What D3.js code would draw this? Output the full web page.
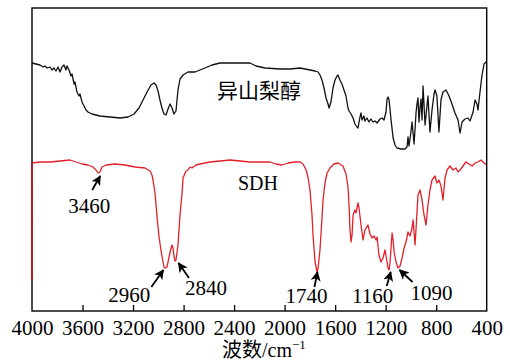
<!DOCTYPE html>
<html>
<head>
<meta charset="utf-8">
<script src="https://cdn.jsdelivr.net/npm/d3@7"></script>
<style>
  html, body { margin: 0; padding: 0; background: #fff; }
  svg { display: block; }
</style>
</head>
<body>
<svg id="chart" width="510" height="362"></svg>
<script>
// 异山梨醇 spectrum (wavenumber, relative transmittance)
const isoWn = [4000,3968,3937,3913,3897,3881,3857,3842,3826,3810,3794,3778,3762,3747,3731,3723,3707,3691,3683,3667,3660,3644,3628,3620,3604,3588,3572,3557,3525,3462,3382,3303,3240,3192,3153,3121,3089,3058,3034,3018,3002,2987,2971,2955,2939,2923,2907,2891,2876,2860,2852,2844,2828,2804,2765,2709,2670,2630,2575,2511,2353,2274,2226,2155,2036,1957,1878,1838,1799,1759,1735,1720,1704,1688,1672,1656,1648,1633,1617,1601,1585,1578,1562,1546,1530,1514,1498,1490,1474,1458,1443,1427,1419,1403,1395,1387,1372,1364,1348,1332,1316,1300,1284,1268,1245,1229,1213,1197,1189,1181,1173,1157,1141,1126,1110,1078,1047,1031,1023,1015,999,991,975,959,952,944,936,928,920,912,904,888,873,865,849,833,817,809,794,778,762,746,722,698,675,651,627,611,595,572,548,532,508,492,477,469,453,437,421,405,400];
const isoT = [248,247,246,244,245,243,244,241,243,240,244,239,244,246,241,245,241,235,237,227,229,219,215,217,209,205,201,199,197,195,194,193,194,197,203,211,219,226,228,226,220,211,203,197,196,202,207,203,197,200,211,221,232,236,239,239,241,243,246,248,248,248,245,243,242,242,243,242,241,240,239,236,231,223,213,207,203,209,223,231,235,236,231,227,221,215,203,200,197,193,187,184,183,194,198,191,195,190,193,189,192,189,190,188,192,193,191,199,212,214,211,191,173,166,163,162,162,164,174,165,180,189,167,199,207,213,189,203,212,191,225,186,205,215,179,201,217,221,215,179,211,219,221,215,207,198,191,178,189,192,193,190,199,211,207,201,219,236,247,249,249];

// SDH spectrum
const sdhWn = [4000,4000,3937,3857,3778,3699,3652,3604,3557,3517,3493,3477,3462,3446,3414,3343,3264,3184,3105,3066,3050,3042,3026,3010,2994,2979,2971,2955,2947,2931,2923,2907,2891,2884,2876,2868,2860,2844,2828,2812,2804,2781,2765,2749,2733,2701,2670,2591,2511,2432,2274,2116,2068,2021,1973,1918,1878,1854,1830,1815,1799,1783,1775,1759,1743,1735,1720,1704,1696,1680,1664,1641,1609,1578,1538,1514,1498,1490,1482,1474,1466,1458,1443,1435,1419,1411,1395,1379,1364,1340,1324,1308,1292,1276,1268,1253,1237,1221,1205,1189,1181,1173,1165,1149,1141,1133,1118,1102,1086,1070,1054,1039,1023,1007,991,983,967,960,944,928,912,896,880,865,849,833,809,794,778,762,746,730,714,691,667,643,627,611,588,564,540,516,492,469,445,421,400];
const sdhT = [30,148,149,149,150,151,149,147,146,144,141,138,139,144,146,147,146,144,143,140,136,131,118,94,74,61,55,44,43,44,49,59,66,63,55,50,51,66,96,118,133,140,141,144,143,146,147,149,150,151,149,149,147,146,148,149,149,147,141,134,121,96,76,49,39,43,61,93,111,128,138,143,147,148,145,137,124,106,81,69,76,96,101,98,108,103,86,71,81,86,77,73,75,71,74,56,49,53,61,49,43,41,49,78,71,59,49,43,45,53,63,69,79,75,83,91,66,81,116,121,111,96,86,106,121,131,135,128,131,125,111,133,141,145,141,143,139,141,145,149,147,145,148,149,151,148,146];

const xTicks = [4000,3600,3200,2800,2400,2000,1600,1200,800,400];

const peakLabels = ['3460','2960','2840','1740','1160','1090'];
const peakWn = [3460,2960,2840,1740,1160,1090];

// arrow layout: tip y, tail offset, label offset (px)
const arrowLayout = [
  { tipY: 176, dx: -8, dy: 14, lx: -11, ly: 37 },
  { tipY: 270, dx: -12, dy: 17, lx: -34, ly: 32 },
  { tipY: 263, dx: 10.5, dy: 15, lx: 27.5, ly: 32 },
  { tipY: 272, dx: -3, dy: 15, lx: -11, ly: 31 },
  { tipY: 272, dx: -4, dy: 14, lx: -18, ly: 31 },
  { tipY: 270, dx: 13, dy: 12, lx: 32, ly: 30 },
];

const W = 510, H = 362;
const margin = { top: 8, right: 23.3, bottom: 51, left: 32 };
const red = '#e3202a';
const serif = '"Liberation Serif"';
const cjk = '"Noto Sans CJK SC"';

const svg = d3.select('#chart');

const x = d3.scaleLinear()
  .domain([4000, 400])
  .range([margin.left, W - margin.right]);
const y = d3.scaleLinear()
  .domain([0, 303])
  .range([H - margin.bottom, margin.top]);

const line = d3.line()
  .x((d) => x(d[0]))
  .y((d) => y(d[1]));

const plotG = svg.append('g');

plotG.append('path')
  .datum(d3.zip(isoWn, isoT))
  .attr('fill', 'none')
  .attr('stroke', '#111')
  .attr('stroke-width', 1.3)
  .attr('stroke-linejoin', 'round')
  .attr('d', line);

plotG.append('path')
  .datum(d3.zip(sdhWn, sdhT))
  .attr('fill', 'none')
  .attr('stroke', red)
  .attr('stroke-width', 1.3)
  .attr('stroke-linejoin', 'round')
  .attr('d', line);

// frame
svg.append('rect')
  .attr('x', x(4000))
  .attr('y', margin.top)
  .attr('width', x(400) - x(4000))
  .attr('height', H - margin.bottom - margin.top)
  .attr('fill', 'none')
  .attr('stroke', '#000')
  .attr('stroke-width', 1.4);

// the red trace's first segment sits on the left edge, draw it over the frame
svg.append('path')
  .datum(d3.zip(sdhWn, sdhT).slice(0, 2))
  .attr('stroke', red)
  .attr('stroke-width', 1.4)
  .attr('d', line);

// bottom axis, ticks pointing inward
const axis = d3.axisBottom(x)
  .tickValues(xTicks)
  .tickSizeInner(-6)
  .tickSizeOuter(0)
  .tickPadding(9)
  .tickFormat(d3.format('d'));

const axisG = svg.append('g')
  .attr('transform', `translate(0,${H - margin.bottom})`)
  .call(axis);
axisG.select('.domain').remove();
axisG.selectAll('.tick line')
  .attr('stroke', '#000')
  .attr('stroke-width', 1.3)
  .filter((d) => d === 4000 || d === 400)
  .remove();
axisG.selectAll('.tick text')
  .style('font-family', serif)
  .style('font-size', '21px')
  .attr('fill', '#000');

// axis title
const title = svg.append('text')
  .attr('x', 222)
  .attr('y', 357)
  .style('font-size', '20px')
  .attr('fill', '#000');
title.append('tspan').style('font-family', cjk).text('波数');
title.append('tspan').style('font-family', serif).text('/cm');
title.append('tspan')
  .style('font-family', serif)
  .style('font-size', '13px')
  .attr('dy', -8)
  .text('−1');

// series labels
svg.append('text')
  .attr('x', 217)
  .attr('y', 98)
  .style('font-family', cjk)
  .style('font-size', '21px')
  .attr('fill', '#000')
  .text('异山梨醇');

svg.append('text')
  .attr('x', 238)
  .attr('y', 190)
  .style('font-family', serif)
  .style('font-size', '20px')
  .attr('fill', '#000')
  .text('SDH');

// peak arrows
svg.append('defs').append('marker')
  .attr('id', 'head')
  .attr('viewBox', '0 0 10 10')
  .attr('refX', 9)
  .attr('refY', 5)
  .attr('markerWidth', 10)
  .attr('markerHeight', 10)
  .attr('markerUnits', 'userSpaceOnUse')
  .attr('orient', 'auto')
  .append('path')
  .attr('d', 'M0,0 L10,5 L0,10 L2.5,5 Z')
  .attr('fill', '#000');

const annG = svg.append('g');
peakWn.forEach((wn, i) => {
  const a = arrowLayout[i];
  const tx = x(wn);
  const ty = a.tipY;
  annG.append('line')
    .attr('x1', tx + a.dx)
    .attr('y1', ty + a.dy)
    .attr('x2', tx)
    .attr('y2', ty)
    .attr('stroke', '#000')
    .attr('stroke-width', 1.8)
    .attr('marker-end', 'url(#head)');
  annG.append('text')
    .attr('x', tx + a.lx)
    .attr('y', ty + a.ly)
    .attr('text-anchor', 'middle')
    .style('font-family', serif)
    .style('font-size', '21px')
    .attr('fill', '#000')
    .text(peakLabels[i]);
});
</script>
</body>
</html>
